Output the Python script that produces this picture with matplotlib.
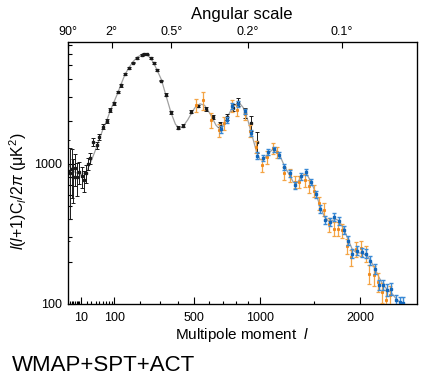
import numpy as np
import matplotlib
matplotlib.use('Agg')
import matplotlib.pyplot as plt
from matplotlib.ticker import FixedLocator, FixedFormatter, NullFormatter, NullLocator

plt.rcParams['font.family'] = ['Liberation Sans', 'DejaVu Sans']
plt.rcParams['mathtext.fontset'] = 'custom'
plt.rcParams['mathtext.rm'] = 'Liberation Sans'
plt.rcParams['mathtext.it'] = 'Liberation Sans:italic'

# theory curve
th_l = [2, 5, 10, 20, 30, 40, 50, 62, 74, 86, 99, 111, 122, 138, 155, 172, 189, 208, 220, 232,
        251, 267, 284, 306, 329, 359, 385, 410, 432, 460, 490, 515, 540, 570, 610, 650, 670, 700, 730, 773,
        810, 830, 860, 900, 940, 972, 1000, 1030, 1072, 1110, 1140, 1180, 1213, 1260, 1300, 1330, 1373, 1410, 1440, 1480,
        1520, 1566, 1610, 1660, 1700, 1740, 1770, 1820, 1865, 1913, 1960, 2020, 2075, 2120, 2171, 2222, 2270, 2320, 2372, 2425,
        2474, 2530, 2600, 2700]
th_d = [1000, 880, 830, 880, 1050, 1250, 1480, 1780, 2050, 2400, 2750, 3150, 3600, 4300, 4850, 5350, 5720, 5970, 6010, 5950,
        5620, 5150, 4600, 3950, 3100, 2300, 1900, 1780, 1850, 2050, 2350, 2580, 2660, 2600, 2250, 1880, 1790, 1850, 2100, 2500,
        2680, 2690, 2500, 2000, 1500, 1200, 1070, 1060, 1180, 1260, 1240, 1120, 980, 840, 740, 720, 790, 840, 820, 730,
        620, 500, 420, 385, 395, 400, 390, 340, 290, 245, 232, 230, 222, 205, 180, 155, 137, 127, 120, 110,
        103, 95, 88, 80]

# WMAP
wmap_l = [2, 3, 4, 5, 6, 7, 9, 12, 15, 18, 22, 27, 33, 43, 50, 62, 74, 86, 99, 111,
          122, 138, 155, 172, 189, 208, 219, 231, 251, 267, 284, 306, 329, 359, 399, 432, 479, 529, 580, 630,
          680, 730, 780, 820, 870, 925, 972]
wmap_d = [880, 850, 920, 800, 930, 800, 870, 810, 760, 850, 1000, 1090, 1430, 1350, 1550, 1830, 2000, 2400, 2680, 3240,
          3600, 4370, 4790, 5240, 5620, 5930, 6000, 5980, 5620, 5200, 4640, 3900, 3100, 2310, 1800, 1860, 2340, 2570, 2450, 2150,
          1900, 2150, 2500, 2740, 2300, 1940, 1430]
wmap_err = [600, 450, 350, 280, 240, 210, 160, 140, 130, 120, 100, 90, 90, 80, 80, 70, 70, 70, 70, 70,
            75, 75, 80, 80, 80, 80, 80, 80, 75, 70, 65, 60, 55, 50, 45, 50, 55, 60, 70, 80,
            90, 110, 140, 170, 200, 230, 250]

# SPT
spt_l = [686, 730, 773, 820, 874, 922, 972, 1023, 1072, 1125, 1168, 1213, 1270, 1318, 1373, 1422, 1472, 1522, 1566,
         1618, 1670, 1715, 1770, 1820, 1865, 1913, 1970, 2020, 2075, 2120, 2171, 2222, 2270, 2320, 2372, 2425, 2474, 2515]
spt_d = [1750, 2040, 2570, 2660, 2350, 1650, 1140, 1090, 1210, 1260, 1150, 950, 850, 700, 810, 870, 740, 606, 476,
         397, 382, 416, 393, 337, 283, 228, 240, 234, 228, 204, 178, 137, 137, 126, 128, 106, 103, 102]
spt_err = [90, 100, 120, 120, 110, 80, 60, 55, 60, 60, 55, 50, 45, 40, 45, 45, 40, 35, 30,
           25, 25, 25, 25, 22, 20, 17, 17, 17, 17, 16, 15, 12, 12, 12, 12, 10, 10, 10]

# ACT
act_l = [510, 558, 616, 669, 710, 767, 810, 874, 916, 966, 1015, 1062, 1112, 1154, 1213, 1270, 1318, 1360, 1415, 1458,
         1508, 1559, 1608, 1663, 1712, 1760, 1804, 1856, 1901, 1952, 2010, 2065, 2107, 2160, 2211, 2258, 2306, 2350]
act_d = [2610, 2830, 2040, 1730, 1930, 2570, 2400, 2250, 1710, 1320, 970, 1110, 1280, 1210, 850, 825, 740, 740, 760, 690,
         640, 520, 470, 370, 343, 343, 334, 260, 215, 245, 250, 228, 163, 160, 143, 121, 106, 115]
act_err = [280, 420, 260, 180, 200, 250, 230, 210, 170, 130, 100, 110, 120, 110, 90, 85, 75, 75, 80, 70,
           65, 55, 50, 42, 40, 40, 38, 32, 28, 30, 30, 30, 25, 25, 22, 20, 20, 20]

x_ticks = [10, 100, 500, 1000, 2000]
x_minor = [3, 4, 5, 6, 7, 8, 9, 20, 30, 40, 50, 60, 70, 80, 90, 200, 300, 400, 600, 700, 800, 900, 1500]
top_ticks = [2, 90, 360, 900, 1800]
top_labels = ['90°', '2°', '0.5°', '0.2°', '0.1°']

# x axis warp: roughly l^0.58, stretched at the low end
P = 0.58
U_KNOTS = np.array([1, 2, 10, 100, 500, 1000, 2000, 3500], dtype=float) ** P
X_KNOTS = np.array([64.7, 67.5, 80.7, 114.3, 194.0, 260.0, 360.0, 476.0])


def forward(l):
    u = np.power(np.clip(np.asarray(l, dtype=float), 1e-6, None), P)
    return np.interp(u, U_KNOTS, X_KNOTS)


def inverse(x):
    return np.power(np.interp(np.asarray(x, dtype=float), X_KNOTS, U_KNOTS), 1 / P)


W, H = 427, 383
fig = plt.figure(figsize=(W / 100, H / 100), dpi=100)
ax = fig.add_axes([67.5 / W, 1 - 304 / H, (416.7 - 67.5) / W, (304 - 42.3) / H])

ax.set_xscale('function', functions=(forward, inverse))
ax.set_yscale('log')

ax.plot(th_l, th_d, color='#a0a0a0', lw=0.9, zorder=1)
ax.errorbar(wmap_l, wmap_d, yerr=wmap_err, fmt='s', ms=1.5, color='#1a1a1a',
            ecolor='#1a1a1a', elinewidth=0.7, capsize=1.4, capthick=0.7, zorder=3)
ax.errorbar(act_l, act_d, yerr=act_err, fmt='s', ms=1.2, color='#f08a1c',
            ecolor='#f4a445', elinewidth=0.9, capsize=1.6, capthick=0.9, zorder=4)
ax.errorbar(spt_l, spt_d, yerr=spt_err, fmt='s', ms=1.5, color='#1166bb',
            ecolor='#3a8ad6', elinewidth=1.0, capsize=1.6, capthick=1.0, zorder=5)

ax.set_xlim(2, 2690)
ax.set_ylim(100, 7300)

ax.xaxis.set_major_locator(FixedLocator(x_ticks))
ax.xaxis.set_major_formatter(FixedFormatter([str(t) for t in x_ticks]))
ax.xaxis.set_minor_locator(FixedLocator(x_minor))
ax.xaxis.set_minor_formatter(NullFormatter())
ax.yaxis.set_major_locator(FixedLocator([100, 1000]))
ax.yaxis.set_major_formatter(FixedFormatter(['100', '1000']))
ax.yaxis.set_minor_locator(FixedLocator([200, 300, 400, 500, 600, 700, 800, 900,
                                         2000, 3000, 4000, 5000, 6000, 7000]))
ax.yaxis.set_minor_formatter(NullFormatter())

ax.tick_params(which='both', direction='in', top=False, right=False, labelsize=9, width=0.8)
ax.tick_params(axis='x', which='major', length=5, pad=6)
ax.tick_params(axis='x', which='minor', length=2.5)
ax.tick_params(axis='y', which='major', length=5, pad=4)
ax.tick_params(axis='y', which='minor', length=3)
for s in ax.spines.values():
    s.set_linewidth(0.9)

ax.set_xlabel(r'Multipole moment  $l$', fontsize=11, labelpad=1)
ax.set_ylabel(r'$l$($l$+1)C$_l$/2$\pi$ (μK$^2$)', fontsize=11.5)
ax.yaxis.set_label_coords(-0.11, 0.432)

ax2 = ax.twiny()
ax2.set_xscale('function', functions=(forward, inverse))
ax2.set_xlim(2, 2690)
ax2.xaxis.set_major_locator(FixedLocator(top_ticks))
ax2.xaxis.set_major_formatter(FixedFormatter(top_labels))
ax2.xaxis.set_minor_locator(NullLocator())
ax2.tick_params(axis='x', direction='in', length=4, width=0.8, labelsize=9, pad=3)
ax2.set_xlabel('Angular scale', fontsize=12, labelpad=5)

fig.text(12 / W, 1 - 365.5 / H, 'WMAP+SPT+ACT', fontsize=16, va='center', ha='left')

fig.savefig('out.png', dpi=100)
